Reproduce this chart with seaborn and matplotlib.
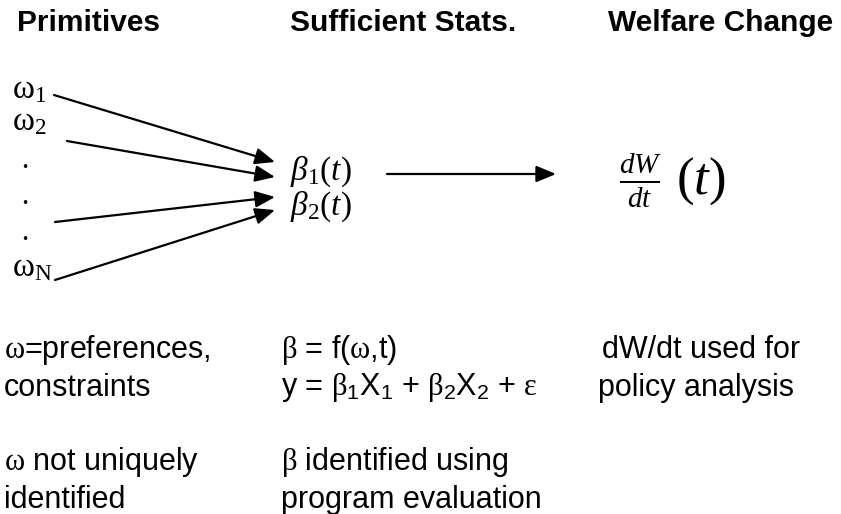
import matplotlib.pyplot as plt
import seaborn as sns

# Textos do diagrama
titulos = ['Primitives', 'Sufficient Stats.', 'Welfare Change']
omegas = [r'$\mathrm{\omega}_{\mathrm{1}}$', r'$\mathrm{\omega}_{\mathrm{2}}$',
          r'$\mathbf{\cdot}$', r'$\mathbf{\cdot}$', r'$\mathbf{\cdot}$',
          r'$\mathrm{\omega}_{\mathrm{N}}$']
betas = [r'$\mathit{\beta}_{\mathrm{1}}(t)$', r'$\mathit{\beta}_{\mathrm{2}}(t)$']
col1 = [r'$\mathrm{\omega}$=preferences,', 'constraints',
        r'$\mathrm{\omega}$ not uniquely', 'identified']
col2 = [r'$\mathrm{\beta}$ = f($\mathrm{\omega}$,t)',
        r'y = $\mathrm{\beta}_{\mathsf{1}}$X$_{\mathsf{1}}$ + $\mathrm{\beta}_{\mathsf{2}}$X$_{\mathsf{2}}$ + $\mathrm{\varepsilon}$',
        r'$\mathrm{\beta}$ identified using', 'program evaluation']
col3 = ['dW/dt used for', 'policy analysis']

# Layout (coordenadas em pixels, y para baixo)
x_tit = [17, 290, 608]
y_tit = 23
y_omega = [90, 122, 163, 199, 235, 268]
x_omega = [12, 12, 20, 20, 20, 12]
setas = [((54, 95), (275, 162)), ((67, 141), (275, 177)),
         ((55, 222), (275, 197)), ((55, 280), (275, 210))]
y_beta = [172, 207]
y_linhas = [350, 388, 462, 500]

sns.set_style('white')
plt.rcParams['mathtext.fontset'] = 'custom'
plt.rcParams['mathtext.rm'] = 'Liberation Serif'
plt.rcParams['mathtext.it'] = 'Liberation Serif:italic'
plt.rcParams['mathtext.bf'] = 'Liberation Serif:bold'
plt.rcParams['mathtext.sf'] = 'Liberation Sans'
plt.rcParams['font.family'] = ['Liberation Sans', 'DejaVu Sans']
plt.rcParams['text.color'] = 'black'

fig = plt.figure(figsize=(8.41, 5.14), dpi=100)
ax = fig.add_axes([0, 0, 1, 1])
ax.set_xlim(0, 841)
ax.set_ylim(514, 0)
ax.axis('off')

for x, t in zip(x_tit, titulos):
    ax.text(x, y_tit, t, fontsize=21.5, fontweight='bold', va='center', ha='left')

for x, y, t in zip(x_omega, y_omega, omegas):
    ax.text(x, y, t, fontsize=24, va='center', ha='left')

seta = dict(arrowstyle='-|>,head_length=0.6,head_width=0.25', lw=1.6,
            color='black', mutation_scale=20, shrinkA=0, shrinkB=0)
for ini, fim in setas:
    ax.annotate('', xy=fim, xytext=ini, arrowprops=seta)

for y, t in zip(y_beta, betas):
    ax.text(290, y, t, fontsize=24, va='center', ha='left')

ax.annotate('', xy=(556, 174), xytext=(387, 174), arrowprops=seta)

ax.text(641, 180, r'$\frac{dW}{dt}$', fontsize=30, va='center', ha='center')
ax.text(676, 181, r'$(t)$', fontsize=38, va='center', ha='left')

for y, t in zip(y_linhas, col1):
    ax.text(4, y, t, fontsize=22, va='center', ha='left')
for y, t in zip(y_linhas, col2):
    ax.text(281, y, t, fontsize=22, va='center', ha='left')
for x, y, t in zip([602, 598], y_linhas[:2], col3):
    ax.text(x, y, t, fontsize=22, va='center', ha='left')

fig.savefig('out.png', dpi=100)
plt.close(fig)
